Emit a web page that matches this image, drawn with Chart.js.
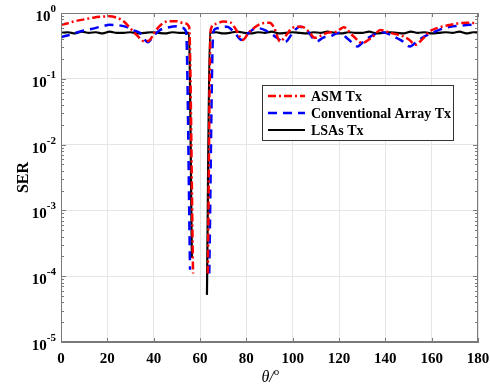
<!DOCTYPE html>
<html>
<head>
<meta charset="utf-8">
<script src="https://cdn.jsdelivr.net/npm/chart.js@4/dist/chart.umd.min.js"></script>
<style>
  html, body { margin: 0; padding: 0; background: #fff; }
  #wrap { width: 490px; height: 386px; }
</style>
</head>
<body>
<div id="wrap"><canvas id="serChart" width="490" height="386"></canvas></div>
<script>
// ASM Tx (red dash-dot)
const asmTheta = [0, 3, 6, 10, 14, 18, 21, 24, 27, 30, 33, 36, 38, 41, 44, 47, 50, 53, 55.3, 57, 60,
  63.4, 64.6, 66.5, 70, 73, 75, 78.5, 81, 84, 87, 90, 92, 94.5, 97, 100, 104, 107, 109.6, 112, 115, 119, 122,
  126, 130, 134, 138, 142, 147, 150, 153, 156, 159, 163, 167, 171, 175, 180];
const asmSER = [0.66, 0.70, 0.75, 0.80, 0.85, 0.88, 0.89, 0.85, 0.75, 0.58, 0.45, 0.37, 0.38, 0.55, 0.70, 0.75, 0.75, 0.70, 0.62, 1.1e-4, null,
  1.1e-4, 0.55, 0.68, 0.74, 0.72, 0.60, 0.39, 0.50, 0.62, 0.70, 0.71, 0.60, 0.37, 0.45, 0.60, 0.62, 0.52, 0.42, 0.45, 0.50, 0.52, 0.61,
  0.45, 0.35, 0.42, 0.55, 0.50, 0.45, 0.40, 0.33, 0.40, 0.52, 0.60, 0.65, 0.69, 0.71, 0.70];

// Conventional Array Tx (blue dashed)
const convTheta = [0, 4, 8, 13, 18, 21, 25, 28.5, 31, 34, 37.5, 40, 42.7, 46, 50, 52, 54, 55.7, 60,
  64, 65.7, 67, 69, 71.6, 75, 78, 81, 84.5, 88, 92, 96.7, 100, 103, 106, 110.5, 113, 116, 120, 124, 128, 131,
  134.7, 139, 143, 147, 150.6, 154, 158, 163, 168, 172, 176.5, 180];
const convSER = [0.43, 0.47, 0.52, 0.57, 0.63, 0.66, 0.65, 0.61, 0.55, 0.50, 0.36, 0.45, 0.55, 0.60, 0.63, 0.60, 0.52, 1.25e-4, null,
  1.1e-4, 0.50, 0.58, 0.60, 0.62, 0.50, 0.39, 0.50, 0.59, 0.55, 0.45, 0.36, 0.50, 0.62, 0.55, 0.37, 0.42, 0.44, 0.50, 0.40, 0.31, 0.38,
  0.46, 0.51, 0.45, 0.38, 0.31, 0.38, 0.46, 0.55, 0.62, 0.64, 0.66, 0.62];

// LSAs Tx (black solid)
const lsaTheta = [0, 3, 6, 9, 12, 15, 18, 21, 24, 27, 30, 33, 36, 39, 42, 45, 48, 51, 54, 55.2, 56.5, 60,
  63, 64.3, 67, 70, 73, 76, 79, 82, 85, 88, 91, 94, 97, 100, 103, 106, 109, 112, 115, 118, 121, 124, 127,
  130, 133, 136, 139, 142, 145, 148, 151, 154, 157, 160, 163, 166, 169, 172, 175, 178, 180];
const lsaSER = [0.50, 0.51, 0.49, 0.52, 0.50, 0.51, 0.49, 0.52, 0.50, 0.50, 0.51, 0.49, 0.50, 0.51, 0.50, 0.49, 0.51, 0.50, 0.50, 0.50, 1.9e-4, null,
  5.2e-5, 0.50, 0.51, 0.49, 0.50, 0.52, 0.50, 0.49, 0.51, 0.50, 0.52, 0.49, 0.50, 0.51, 0.50, 0.49, 0.51, 0.50, 0.52, 0.50, 0.49, 0.51, 0.50,
  0.50, 0.52, 0.49, 0.50, 0.51, 0.50, 0.49, 0.52, 0.50, 0.51, 0.49, 0.50, 0.51, 0.50, 0.52, 0.49, 0.51, 0.51];

const xTicks = [0, 20, 40, 60, 80, 100, 120, 140, 160, 180];
const yDecades = [-5, -4, -3, -2, -1, 0];
const seriesNames = ["ASM Tx", "Conventional Array Tx", "LSAs Tx"];

const serif = "'Liberation Serif', 'Times New Roman', serif";

function pts(xs, ys) {
    return xs.map((x, i) => ({ x: x, y: ys[i] }));
}

// axes decoration, MATLAB style labels and the legend box
const decor = {
    id: "decor",
    afterDraw(chart) {
        const ctx = chart.ctx;
        const a = chart.chartArea;
        const xs = chart.scales.x;
        const ys = chart.scales.y;
        ctx.save();

        // frame + inward ticks
        ctx.strokeStyle = "#7a7a7a";
        ctx.lineWidth = 1;
        ctx.strokeRect(a.left + 0.5, a.top + 0.5, a.right - a.left - 1, a.bottom - a.top - 1);
        ctx.beginPath();
        xTicks.forEach((t) => {
            const px = Math.round(xs.getPixelForValue(t)) + 0.5;
            ctx.moveTo(px, a.bottom); ctx.lineTo(px, a.bottom - 4);
            ctx.moveTo(px, a.top); ctx.lineTo(px, a.top + 4);
        });
        yDecades.forEach((d) => {
            for (let m = 1; m <= 9; m++) {
                const v = m * Math.pow(10, d);
                if (v > 1) break;
                const py = Math.round(ys.getPixelForValue(v)) + 0.5;
                const len = m === 1 ? 5 : 3;
                ctx.moveTo(a.left, py); ctx.lineTo(a.left + len, py);
                ctx.moveTo(a.right, py); ctx.lineTo(a.right - len, py);
            }
        });
        ctx.stroke();

        // y tick labels 10^n
        ctx.fillStyle = "#000";
        ctx.textBaseline = "alphabetic";
        yDecades.forEach((d) => {
            const py = ys.getPixelForValue(Math.pow(10, d));
            const exp = d === 0 ? "0" : "-" + Math.abs(d);
            ctx.font = "bold 11px " + serif;
            const ew = ctx.measureText(exp).width;
            ctx.textAlign = "right";
            ctx.fillText(exp, a.left - 5, py - 1);
            ctx.font = "bold 15px " + serif;
            ctx.fillText("10", a.left - 5 - ew, py + 8);
        });

        // y title
        ctx.save();
        ctx.translate(24, (a.top + a.bottom) / 2);
        ctx.rotate(-Math.PI / 2);
        ctx.textAlign = "center";
        ctx.textBaseline = "middle";
        ctx.font = "bold 16px " + serif;
        ctx.fillText("SER", 0, 0);
        ctx.restore();

        // x title θ/°
        ctx.textAlign = "left";
        ctx.textBaseline = "alphabetic";
        ctx.font = "italic 16px " + serif;
        const tx = (a.left + a.right) / 2 - 8;
        ctx.fillText("θ/", tx, 382);
        const w = ctx.measureText("θ/").width;
        ctx.font = "11px " + serif;
        ctx.fillText("o", tx + w, 375);

        // legend
        const lx = 262, ly = 85, lw = 191, lh = 55;
        ctx.fillStyle = "#fff";
        ctx.fillRect(lx, ly, lw, lh);
        ctx.strokeStyle = "#333";
        ctx.lineWidth = 1;
        ctx.strokeRect(lx + 0.5, ly + 0.5, lw, lh);
        chart.data.datasets.forEach((ds, i) => {
            const ry = ly + 11 + i * 17;
            ctx.beginPath();
            ctx.strokeStyle = ds.borderColor;
            ctx.lineWidth = ds.borderWidth;
            ctx.setLineDash(ds.borderDash || []);
            ctx.moveTo(lx + 6, ry);
            ctx.lineTo(lx + 43, ry);
            ctx.stroke();
            ctx.setLineDash([]);
            ctx.fillStyle = "#000";
            ctx.font = "bold 14px " + serif;
            ctx.textBaseline = "middle";
            ctx.fillText(seriesNames[i], lx + 49, ry + 1);
        });
        ctx.restore();
    },
};

const ctx = document.getElementById("serChart").getContext("2d");
new Chart(ctx, {
    type: "line",
    data: {
        datasets: [
            {
                label: seriesNames[0],
                data: pts(asmTheta, asmSER),
                borderColor: "#ff0000",
                borderWidth: 2.5,
                borderDash: [8, 3, 2, 3],
            },
            {
                label: seriesNames[1],
                data: pts(convTheta, convSER),
                borderColor: "#0000ff",
                borderWidth: 2.5,
                borderDash: [9, 6],
            },
            {
                label: seriesNames[2],
                data: pts(lsaTheta, lsaSER),
                borderColor: "#000000",
                borderWidth: 2.2,
            },
        ],
    },
    options: {
        responsive: false,
        animation: false,
        spanGaps: false,
        layout: { padding: { left: 0, right: 0, top: 13, bottom: 0 } },
        elements: {
            point: { radius: 0 },
            line: { cubicInterpolationMode: "monotone" },
        },
        plugins: {
            legend: { display: false },
            tooltip: { enabled: false },
        },
        scales: {
            x: {
                type: "linear",
                min: 0,
                max: 180,
                afterFit: (s) => { s.height = 44; s.paddingRight = 12; },
                afterBuildTicks: (s) => { s.ticks = xTicks.map((v) => ({ value: v })); },
                grid: { color: "#e6e6e6", drawTicks: false },
                border: { color: "#7a7a7a" },
                ticks: {
                    color: "#000",
                    padding: 8,
                    font: { family: serif, size: 15, weight: "bold" },
                },
            },
            y: {
                type: "logarithmic",
                min: 1e-5,
                max: 1,
                afterFit: (s) => { s.width = 61; },
                afterBuildTicks: (s) => { s.ticks = yDecades.map((d) => ({ value: Math.pow(10, d) })); },
                grid: { color: "#e6e6e6", drawTicks: false },
                border: { color: "#7a7a7a" },
                ticks: { display: false },
            },
        },
    },
    plugins: [decor],
});
</script>
</body>
</html>
